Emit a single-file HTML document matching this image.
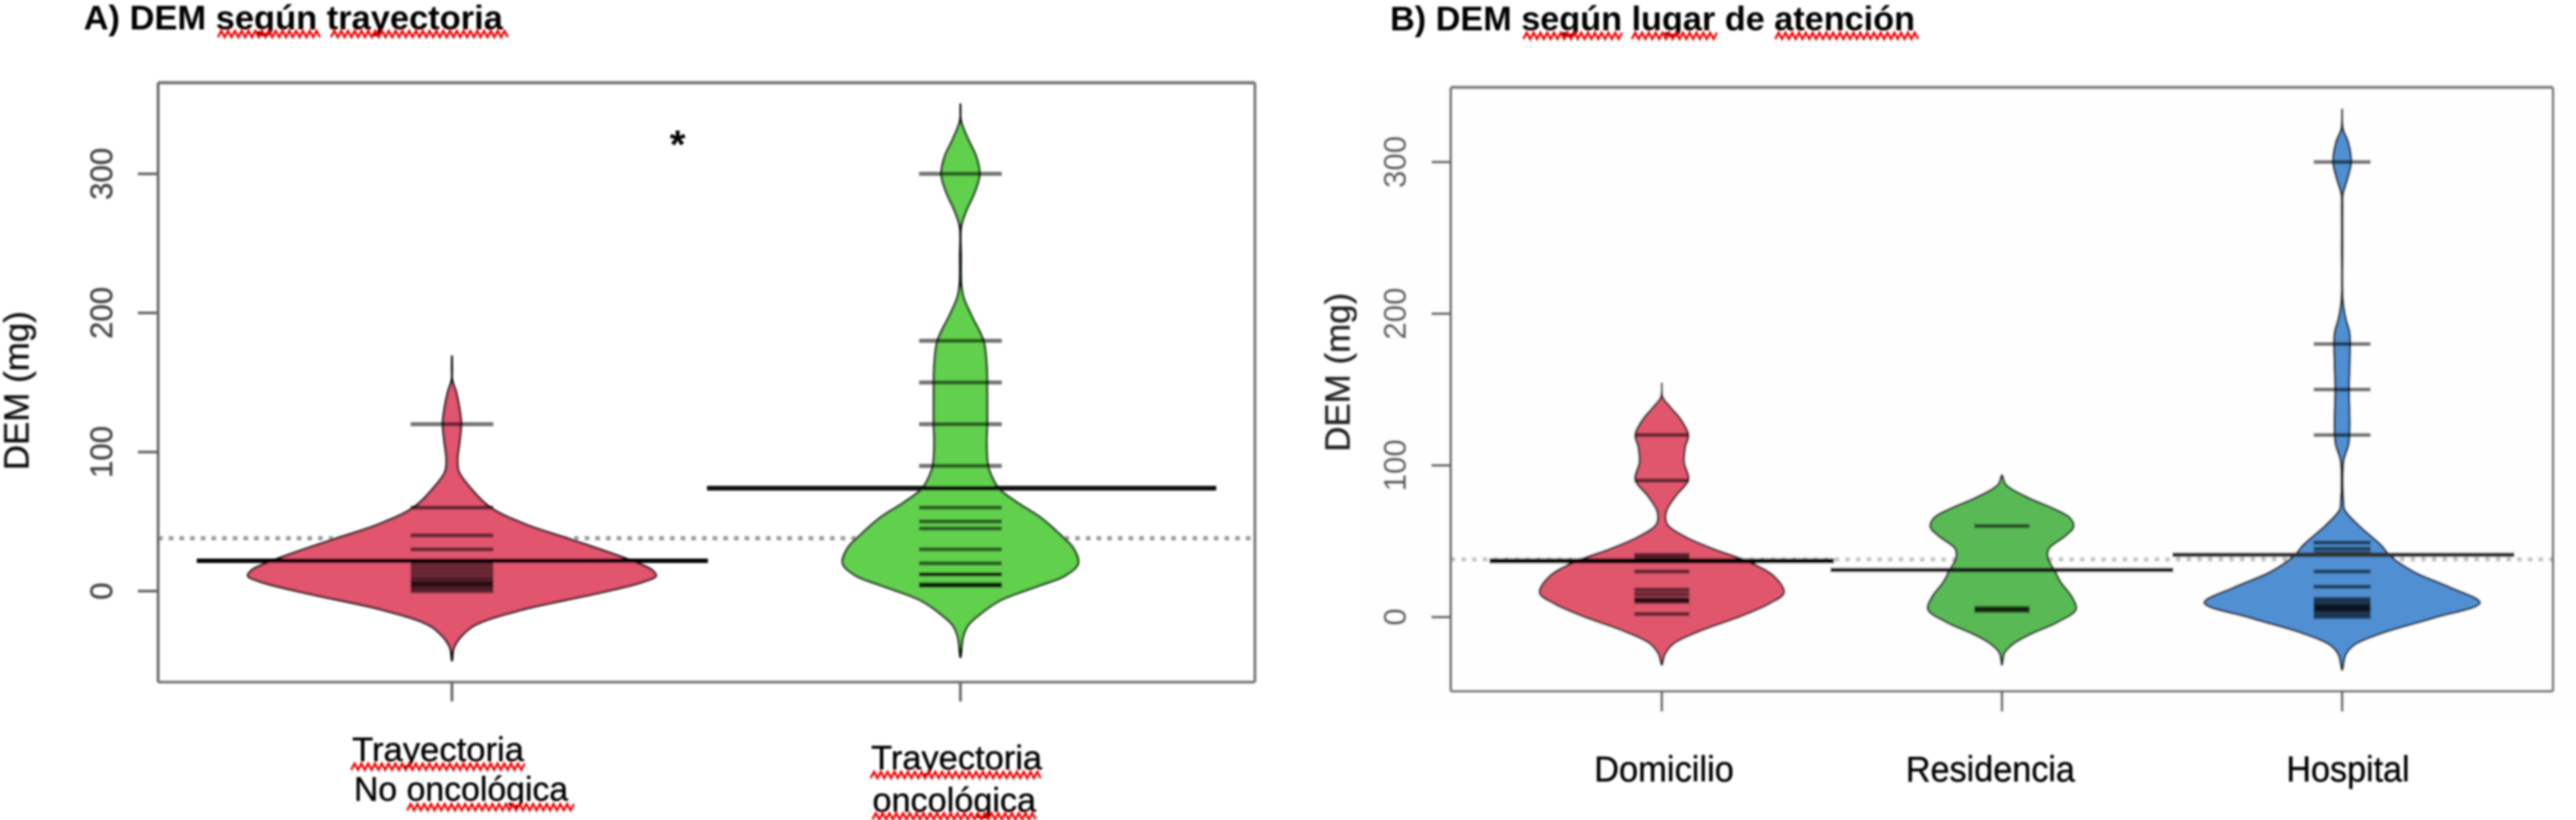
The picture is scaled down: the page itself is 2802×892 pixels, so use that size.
<!DOCTYPE html>
<html lang="es">
<head>
<meta charset="utf-8">
<title>DEM según trayectoria y lugar de atención</title>
<style>
html,body{margin:0;padding:0;background:#fff;}
svg{display:block;}
text{font-family:"Liberation Sans",sans-serif;}
</style>
</head>
<body>
<svg id="figure" xmlns="http://www.w3.org/2000/svg" width="2802" height="892" viewBox="0 0 2802 892">
<defs>
<filter id="soft" filterUnits="userSpaceOnUse" x="0" y="0" width="2802" height="892"><feGaussianBlur stdDeviation="1"/></filter>
</defs>
<rect width="2802" height="892" fill="#ffffff"/>
<g id="root" filter="url(#soft)">
<rect x="1477" y="85" width="1325" height="700" fill="#fefefe"/>
<text x="91" y="32" font-size="37" font-weight="bold" fill="#000" textLength="456" lengthAdjust="spacingAndGlyphs">A) DEM según trayectoria</text>
<text x="1512" y="33" font-size="37" font-weight="bold" fill="#000" textLength="571" lengthAdjust="spacingAndGlyphs">B) DEM según lugar de atención</text>
<text transform="translate(31,425) rotate(-90)" text-anchor="middle" font-size="38" fill="#111" stroke="#111" stroke-width="0.4">DEM (mg)</text>
<text transform="translate(1468,405) rotate(-90)" text-anchor="middle" font-size="38" fill="#222" stroke="#222" stroke-width="0.4">DEM (mg)</text>
<text x="383" y="828" font-size="37" fill="#000" stroke="#000" stroke-width="0.4" textLength="187" lengthAdjust="spacingAndGlyphs">Trayectoria</text>
<text x="385" y="871" font-size="37" fill="#000" stroke="#000" stroke-width="0.4" textLength="233" lengthAdjust="spacingAndGlyphs">No oncológica</text>
<text x="947.5" y="837" font-size="37" fill="#000" stroke="#000" stroke-width="0.4" textLength="186" lengthAdjust="spacingAndGlyphs">Trayectoria</text>
<text x="949" y="883" font-size="37" fill="#000" stroke="#000" stroke-width="0.4" textLength="178" lengthAdjust="spacingAndGlyphs">oncológica</text>
<text x="1734" y="850" font-size="39" fill="#000" stroke="#000" stroke-width="0.4" textLength="152" lengthAdjust="spacingAndGlyphs">Domicilio</text>
<text x="2073" y="850" font-size="39" fill="#000" stroke="#000" stroke-width="0.4" textLength="184" lengthAdjust="spacingAndGlyphs">Residencia</text>
<text x="2487" y="850" font-size="39" fill="#000" stroke="#000" stroke-width="0.4" textLength="134" lengthAdjust="spacingAndGlyphs">Hospital</text>
<text x="737" y="172" text-anchor="middle" font-size="44" font-weight="bold" fill="#000">*</text>
</g>
</svg>
<script>
// Shared axis ticks
const yTicks = [0, 100, 200, 300];
const overallMeanA = 38;
const overallMeanB = 38;

// Panel A: no oncológica
const beanA1Values = [169,152,143,132,121,108,94.5,86,75,60,48,37,22,15,11,6.4,-2.4,-13.4,-24.5,-33,-41,-50];
const beanA1Density = [0,0.2,2.3,4,5,4.2,3,3.7,9.5,21,40,65,97.5,109,111,103.5,76.5,38.2,12.5,4.8,1,0];
const beanA1Rug = [120,60,40,30,19,16,13,10,8,6,5,4,2,0];
const beanA1Mean = 21.8;

// Panel A: oncológica
const beanA2Values = [350,338,324.7,312.6,299.4,286,273,262,240,220,211,198,180,163,141,119,108,90,81,73.6,63.6,53,41.6,30.6,19.7,10.8,4.2,-6.8,-15.7,-24.5,-33,-47.6];
const beanA2Density = [0,0.3,4.2,8.5,10.4,7.5,3,0.4,0.3,0.5,1.7,6,12.5,14.2,14.5,14.5,14.2,15,17.5,20.9,30.9,43.4,53.4,61.5,64,56.5,43.5,21.5,11.5,4.2,1.4,0];
const beanA2Rug = [300,180,150,120,90,60,50,45,30,20,12,12,5,4,4];
const beanA2Mean = 74;

// Panel B: domicilio
const beanB1Values = [154,145,138,130,120,112,102,90.6,79.5,69.4,61.3,53,45,37,27,16,8.8,0.7,-9.4,-17.5,-24.5,-31.6];
const beanB1Density = [0,0.5,5,10.5,14.5,12.8,12.2,14.5,7.5,2.5,3,12.8,28,46,61,66.5,58.5,43.5,20.5,6.5,1.8,0];
const beanB1Rug = [120,90,41,39,30,18,15,12,11,10,2];
const beanB1Mean = 37;

// Panel B: residencia
const beanB2Values = [93.6,87.6,79.5,71.5,65.4,59.4,53.4,45,39,31,23,13,5,-3.3,-11.4,-17.5,-23.5,-31.6];
const beanB2Density = [0,2,12.8,28,37,39,34.5,25.5,25,28.5,32,38.2,40.3,30.5,15.5,6.5,1.5,0];
const beanB2Rug = [60,31,6,5,4];
const beanB2Mean = 31;

// Panel B: hospital
const beanB3Values = [334.7,322,313,300,289,278.6,270,244,208.6,197,186.8,167.6,150,126.8,114,103.7,91,75.9,70.7,60.5,47.8,40,29.8,19.7,9.4,-0.6,-10.8,-18.6,-24.9,-35];
const beanB3Density = [0,0.5,3.4,5,3,0.5,0.3,0.3,0.5,2,4.2,4.2,3.8,4.2,3.6,1,0.4,0.8,1.4,9,20.9,26.5,39,58.5,75,50,21.5,6.5,2,0];
const beanB3Rug = [300,180,150,120,49,45,42,30,20,12,10,8,7,6,5,4,2,0];
const beanB3Mean = 41;

const SVGNS = 'http://www.w3.org/2000/svg';
const root = document.getElementById('root');

function yA(v) { return 643 - 1.513 * v; }
function yB(v) { return 671.2 - 1.65 * v; }
function xA(i) { return 491.6 + 553.1 * i; }
function xB(i) { return 1807.6 + 370 * i; }
function widthScale(d) { return d * 2; }

function addLine(name, x1, y1, x2, y2, stroke, width, opacity, dash) {
  const el = document.createElementNS(SVGNS, 'line');
  
  
  el.setAttribute('x1', x1);
  el.setAttribute('y1', y1);
  el.setAttribute('x2', x2);
  el.setAttribute('y2', y2);
  el.setAttribute('stroke', stroke);
  el.setAttribute('stroke-width', width);
  if (opacity !== undefined) el.setAttribute('stroke-opacity', opacity);
  if (dash) el.setAttribute('stroke-dasharray', dash);
  root.appendChild(el);
  return el;
}

function chordRoot(a, b) {
  return Math.max(Math.pow(Math.hypot(a[0] - b[0], a[1] - b[1]), 0.5), 0.01);
}

function drawBean(name, cx, yScale, values, density, fill) {
  const pts = [];
  values.forEach(function (v, i) { pts.push([cx + widthScale(density[i]), yScale(v)]); });
  for (let i = values.length - 2; i > 0; i--) {
    pts.push([cx - widthScale(density[i]), yScale(values[i])]);
  }
  const n = pts.length;
  let d = 'M' + pts[0][0].toFixed(1) + ' ' + pts[0][1].toFixed(1);
  for (let i = 0; i < n; i++) {
    const p0 = pts[(i - 1 + n) % n], p1 = pts[i], p2 = pts[(i + 1) % n], p3 = pts[(i + 2) % n];
    const d1 = chordRoot(p0, p1), d2 = chordRoot(p1, p2), d3 = chordRoot(p2, p3);
    const k1 = 3 * d1 * (d1 + d2), k2 = 3 * d3 * (d3 + d2);
    const a1 = 2 * d1 * d1 + 3 * d1 * d2 + d2 * d2, a2 = 2 * d3 * d3 + 3 * d3 * d2 + d2 * d2;
    const c1x = (d1 * d1 * p2[0] - d2 * d2 * p0[0] + a1 * p1[0]) / k1;
    const c1y = (d1 * d1 * p2[1] - d2 * d2 * p0[1] + a1 * p1[1]) / k1;
    const c2x = (d3 * d3 * p1[0] - d2 * d2 * p3[0] + a2 * p2[0]) / k2;
    const c2y = (d3 * d3 * p1[1] - d2 * d2 * p3[1] + a2 * p2[1]) / k2;
    d += 'C' + c1x.toFixed(1) + ' ' + c1y.toFixed(1) + ' ' + c2x.toFixed(1) + ' ' + c2y.toFixed(1) + ' ' + p2[0].toFixed(1) + ' ' + p2[1].toFixed(1);
  }
  const el = document.createElementNS(SVGNS, 'path');
  
  
  el.setAttribute('d', d + 'Z');
  el.setAttribute('fill', fill);
  el.setAttribute('stroke', '#000');
  el.setAttribute('stroke-width', '2.2');
  el.setAttribute('stroke-opacity', '0.9');
  root.appendChild(el);
}

function drawRug(name, cx, half, yScale, rug) {
  rug.forEach(function (v) {
    addLine(name, cx - half, yScale(v), cx + half, yScale(v), '#000', 4.4, 0.55);
  });
}

function drawFrame(prefix, left, right, top, bottom, yScale, xScale, count, tickBottom, tickLeft, labelX, color) {
  addLine(prefix + '-frame-top', left, top, right, top, '#777', 3.6);
  addLine(prefix + '-frame-bottom', left, bottom, right, bottom, '#777', 3);
  addLine(prefix + '-frame-left', left, top, left, bottom, '#666', 3);
  addLine(prefix + '-frame-right', right, top, right, bottom, '#777', 3);
  yTicks.forEach(function (t) {
    addLine(prefix + '-y-tick', tickLeft, yScale(t), left, yScale(t), '#666', 3);
    const label = document.createElementNS(SVGNS, 'text');
    
    
    label.setAttribute('transform', 'translate(' + labelX + ',' + yScale(t) + ') rotate(-90)');
    label.setAttribute('text-anchor', 'middle');
    label.setAttribute('font-size', '34');
    label.setAttribute('fill', color);
    label.setAttribute('stroke', color);
    label.setAttribute('stroke-width', '0.4');
    label.textContent = String(t);
    root.appendChild(label);
  });
  for (let i = 0; i < count; i++) {
    addLine(prefix + '-x-tick', xScale(i), bottom, xScale(i), tickBottom, '#666', 3);
  }
}

function drawWavy(name, x1, x2, y) {
  const period = 7.4, amp = 3.4;
  let d = 'M' + x1 + ' ' + (y + amp);
  let up = true;
  for (let x = x1 + period / 2; x <= x2; x += period / 2) {
    d += 'L' + x.toFixed(1) + ' ' + (up ? y - amp : y + amp);
    up = !up;
  }
  const el = document.createElementNS(SVGNS, 'path');
  
  
  el.setAttribute('d', d);
  el.setAttribute('fill', 'none');
  el.setAttribute('stroke', '#f00000');
  el.setAttribute('stroke-width', '2.4');
  root.appendChild(el);
}

// Panel A
addLine('overall-mean-line-a', 172, yA(overallMeanA), 1365, yA(overallMeanA), '#999', 4.5, 1, '5 6.6');
drawBean('bean-no-oncologica', xA(0), yA, beanA1Values, beanA1Density, '#e1546e');
drawBean('bean-oncologica', xA(1), yA, beanA2Values, beanA2Density, '#60d04e');
drawRug('rug-line-no-oncologica', xA(0), 45, yA, beanA1Rug);
drawRug('rug-line-oncologica', xA(1), 45, yA, beanA2Rug);
addLine('mean-line-no-oncologica', 214, yA(beanA1Mean), 770, yA(beanA1Mean), '#000', 4.8);
addLine('mean-line-oncologica', 769, yA(beanA2Mean), 1323, yA(beanA2Mean), '#111', 5.2);
drawFrame('panel-a', 172, 1365, 90, 742, yA, xA, 2, 763, 150, 122, '#444');

// Panel B
addLine('overall-mean-line-b', 1578, yB(overallMeanB), 2777, yB(overallMeanB), '#c4c4c4', 4.5, 1, '5 6.6');
drawBean('bean-domicilio', xB(0), yB, beanB1Values, beanB1Density, '#df566d');
drawBean('bean-residencia', xB(1), yB, beanB2Values, beanB2Density, '#59b955');
drawBean('bean-hospital', xB(2), yB, beanB3Values, beanB3Density, '#4f8fd2');
drawRug('rug-line-domicilio', xB(0), 30, yB, beanB1Rug);
drawRug('rug-line-residencia', xB(1), 30, yB, beanB2Rug);
drawRug('rug-line-hospital', xB(2), 31, yB, beanB3Rug);
addLine('mean-line-domicilio', 1620, yB(beanB1Mean), 1995, yB(beanB1Mean), '#000', 5.5);
addLine('mean-line-residencia', 1991, yB(beanB2Mean), 2364, yB(beanB2Mean), '#1a1a1a', 5);
addLine('mean-line-hospital', 2363, yB(beanB3Mean), 2735, yB(beanB3Mean), '#333', 5);
drawFrame('panel-b', 1578, 2777, 95, 752, yB, xB, 3, 774, 1557, 1529, '#555');

// Spell-check underlines
drawWavy('spellcheck-underline', 237, 348, 37);
drawWavy('spellcheck-underline', 360, 553, 37);
drawWavy('spellcheck-underline', 1657, 1768, 39);
drawWavy('spellcheck-underline', 1775, 1871, 39);
drawWavy('spellcheck-underline', 1931, 2087, 39);
drawWavy('spellcheck-underline', 382, 572, 834);
drawWavy('spellcheck-underline', 443, 627, 878);
drawWavy('spellcheck-underline', 947, 1135, 843);
drawWavy('spellcheck-underline', 949, 1127, 888);
</script>
</body>
</html>
